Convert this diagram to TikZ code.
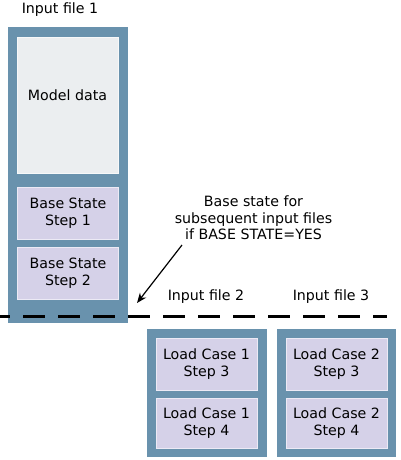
\documentclass[tikz,border=0pt]{standalone}
\usepackage{fontspec}
\setmainfont{DejaVu Sans}
\usetikzlibrary{arrows.meta}
\definecolor{fileblue}{HTML}{6992AD}
\definecolor{datagray}{HTML}{EBEEF0}
\definecolor{steplav}{HTML}{D5D1E8}
\begin{document}
\begin{tikzpicture}[x=1pt, y=-1pt,
  every node/.style={font=\fontsize{14.2pt}{16.5pt}\selectfont, inner sep=0pt},
  filebox/.style={fill=fileblue, draw=none, minimum width=120pt},
  databox/.style={fill=datagray, draw=white!60!datagray, line width=0.8pt},
  stepbox/.style={fill=steplav, draw=white!55!steplav, line width=0.8pt, align=center, minimum width=101pt, minimum height=52pt},
  filelabel/.style={anchor=base}]
\useasboundingbox (0,0) rectangle (400,460);
% input file 1
\node[filebox, minimum height=296pt] (file1) at (68,175) {};
\node[databox, minimum width=101pt, minimum height=136pt,
  label={[name=modeltxt, yshift=10pt]center:Model data}] (model) at (67.5,105) {};
\node[stepbox] (base1) at (68,213) {Base State\\Step 1};
\node[stepbox] (base2) at (68,273) {Base State\\Step 2};
% input files 2 and 3
\node[filebox, minimum height=128pt] (file2) at (207,393) {};
\node[stepbox] (lc1s3) at (206.5,364) {Load Case 1\\Step 3};
\node[stepbox, minimum height=50pt] (lc1s4) at (206.5,423) {Load Case 1\\Step 4};
\node[filebox, minimum width=119pt, minimum height=128pt] (file3) at (336.5,393) {};
\node[stepbox] (lc2s3) at (336.5,364) {Load Case 2\\Step 3};
\node[stepbox, minimum height=50pt] (lc2s4) at (336.5,423) {Load Case 2\\Step 4};
% labels
\node[filelabel] (lab1) at (60,13.5) {Input file 1};
\node[filelabel] (lab2) at (206,300.5) {Input file 2};
\node[filelabel] (lab3) at (331,300.5) {Input file 3};
\node[anchor=north, align=center] (note) at (253.5,196) {Base state for\\subsequent input files\\if BASE STATE=YES};
% base state line
\coordinate (lineL) at (0,316);
\coordinate (lineR) at (387,316);
\draw[black, line width=3pt, dash pattern=on 22pt off 13pt, dash phase=11.7pt] (lineL) -- (lineR);
\coordinate (tail) at (182,245);
\coordinate (tip) at (137,303);
\draw[black, line width=1.2pt, -{Stealth[length=10pt, width=8pt]}] (tail) -- (tip);
\end{tikzpicture}
\end{document}
